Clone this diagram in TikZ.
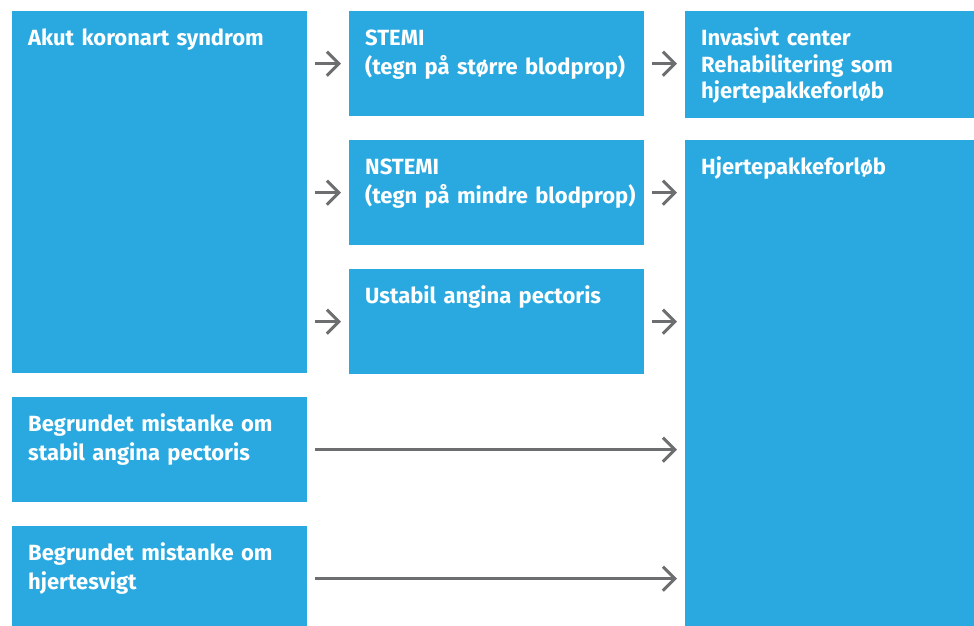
\documentclass[tikz,border=0pt]{standalone}
\usepackage{fontspec}
\setmainfont{Fira Sans}
\usetikzlibrary{arrows.meta}
\definecolor{boxblue}{RGB}{41,169,224}
\definecolor{arrowgrey}{RGB}{109,110,112}
\tikzset{
	box/.style={fill=boxblue, text=white, font=\bfseries\fontsize{22}{29.5}\selectfont,
		anchor=north west, align=left, text width=263pt, inner xsep=16pt, inner ysep=0pt,
		text height=34pt, text depth=#1},
	tight/.style={font=\bfseries\fontsize{22}{26.8}\selectfont},
	arr/.style={draw=arrowgrey, line width=3pt, -{Straight Barb[length=12pt,width=24pt]},
		shorten <=8pt, shorten >=8pt}
}
\begin{document}
\begin{tikzpicture}[x=1pt,y=-1pt]
	\useasboundingbox (0,0) rectangle (974,625);
	\node[box=328pt] (akut) at (12,11) {Akut koronart syndrom};
	\node[box=71pt] (stemi) at (349,11) {STEMI\\\mbox{(tegn på større blodprop)}};
	\node[box=71pt] (nstemi) at (349,140) {NSTEMI\\\mbox{(tegn på mindre blodprop)}};
	\node[box=71pt] (ustabil) at (349,269) {Ustabil angina pectoris};
	\node[box=73pt, tight] (invasiv) at (685,11) {Invasivt center\\Rehabilitering som\\hjertepakkeforløb};
	\node[box=456pt] (hjerte) at (685,140) {Hjertepakkeforløb};
	\node[box=71pt] (stabil) at (12,397) {Begrundet mistanke om\\stabil angina pectoris};
	\node[box=71pt] (svigt) at (12,526) {Begrundet mistanke om\\hjertesvigt};
	\draw[arr] (akut.east |- stemi.west) -- (stemi.west);
	\draw[arr] (akut.east |- nstemi.west) -- (nstemi.west);
	\draw[arr] (akut.east |- ustabil.west) -- (ustabil.west);
	\draw[arr] (stemi.east) -- (invasiv.west |- stemi.east);
	\draw[arr] (nstemi.east) -- (hjerte.west |- nstemi.east);
	\draw[arr] (ustabil.east) -- (hjerte.west |- ustabil.east);
	\draw[arr] (stabil.east) -- (hjerte.west |- stabil.east);
	\draw[arr] (svigt.east) -- (hjerte.west |- svigt.east);
\end{tikzpicture}
\end{document}
